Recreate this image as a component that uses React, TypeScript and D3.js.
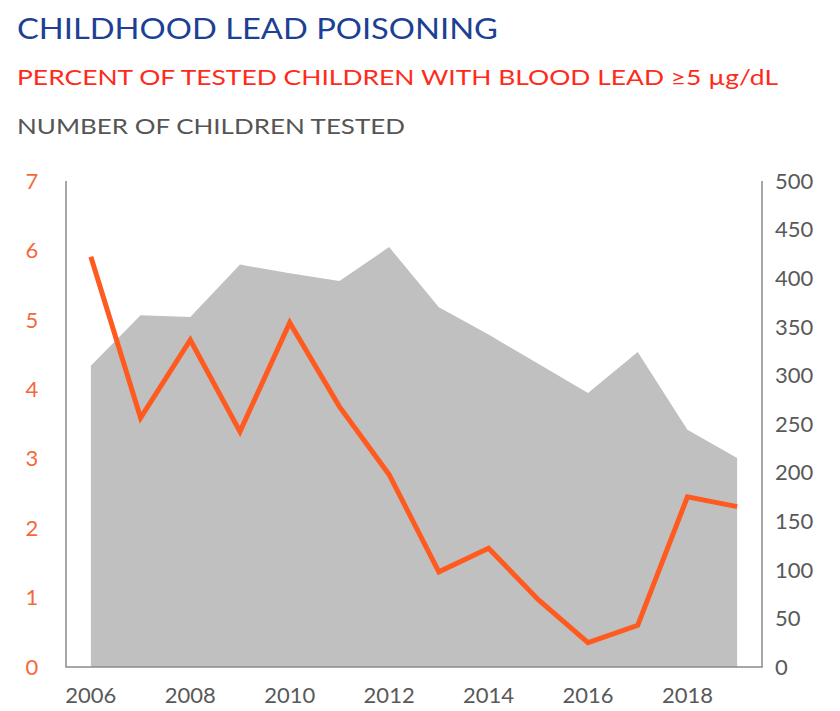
import React from "react";
import * as d3 from "d3";

const years = [2006, 2007, 2008, 2009, 2010, 2011, 2012, 2013, 2014, 2015, 2016, 2017, 2018, 2019];
const percentElevated = [5.91, 3.59, 4.71, 3.39, 4.96, 3.75, 2.77, 1.37, 1.71, 0.97, 0.35, 0.6, 2.45, 2.31];
const childrenTested = [310, 362, 360, 414, 405, 397, 432, 370, 342, 312, 282, 324, 244, 215];
const leftTicks = [0, 1, 2, 3, 4, 5, 6, 7];
const rightTicks = [0, 50, 100, 150, 200, 250, 300, 350, 400, 450, 500];
const xTicks = [2006, 2008, 2010, 2012, 2014, 2016, 2018];

const title = "CHILDHOOD LEAD POISONING";
const subtitle1 = "PERCENT OF TESTED CHILDREN WITH BLOOD LEAD ≥5 µg/dL";
const subtitle2 = "NUMBER OF CHILDREN TESTED";

export default function App() {
  const W = 840, H = 711;
  const left = 66, right = 762, top = 181, bottom = 667;
  const x = d3.scaleLinear().domain([2005.5, 2019.5]).range([left, right]);
  const yL = d3.scaleLinear().domain([0, 7]).range([bottom, top]);
  const yR = d3.scaleLinear().domain([0, 500]).range([bottom, top]);

  const area = d3.area<number>()
    .x((_, i) => x(years[i]))
    .y0(yR(0))
    .y1((d) => yR(d));
  const line = d3.line<number>()
    .x((_, i) => x(years[i]))
    .y((d) => yL(d));

  const font = "Lato, 'Open Sans', sans-serif";
  return (
    <svg width={W} height={H} style={{ position: "absolute", left: 0, top: 0, background: "#fff" }} fontFamily={font}>
      <text x={17} y={39} fontSize={29} fill="#1d3f94" textLength={481} lengthAdjust="spacingAndGlyphs">{title}</text>
      <text x={17} y={85} fontSize={22} fill="#ff2a1a" textLength={761} lengthAdjust="spacingAndGlyphs">{subtitle1}</text>
      <text x={17} y={134} fontSize={22} fill="#555" textLength={388} lengthAdjust="spacingAndGlyphs">{subtitle2}</text>

      <path d={area(childrenTested) || ""} fill="#c0c0c0" />
      <path d={line(percentElevated) || ""} fill="none" stroke="#ff5a1f" strokeWidth={5} strokeLinejoin="miter" />

      <path d={`M${left},${top}V${bottom}H${right}V${top}`} fill="none" stroke="#8a8a8a" strokeWidth={1.5} />

      {leftTicks.map((t) => (
        <text key={"l" + t} x={32} y={yL(t)} dy="0.35em" fontSize={22} fill="#f26a3c" textAnchor="middle">{t}</text>
      ))}
      {rightTicks.map((t) => (
        <text key={"r" + t} x={775} y={yR(t)} dy="0.35em" fontSize={22} fill="#595959" textAnchor="start">{t}</text>
      ))}
      {xTicks.map((t) => (
        <text key={"x" + t} x={x(t)} y={703} fontSize={22} fill="#595959" textAnchor="middle">{t}</text>
      ))}
    </svg>
  );
}
